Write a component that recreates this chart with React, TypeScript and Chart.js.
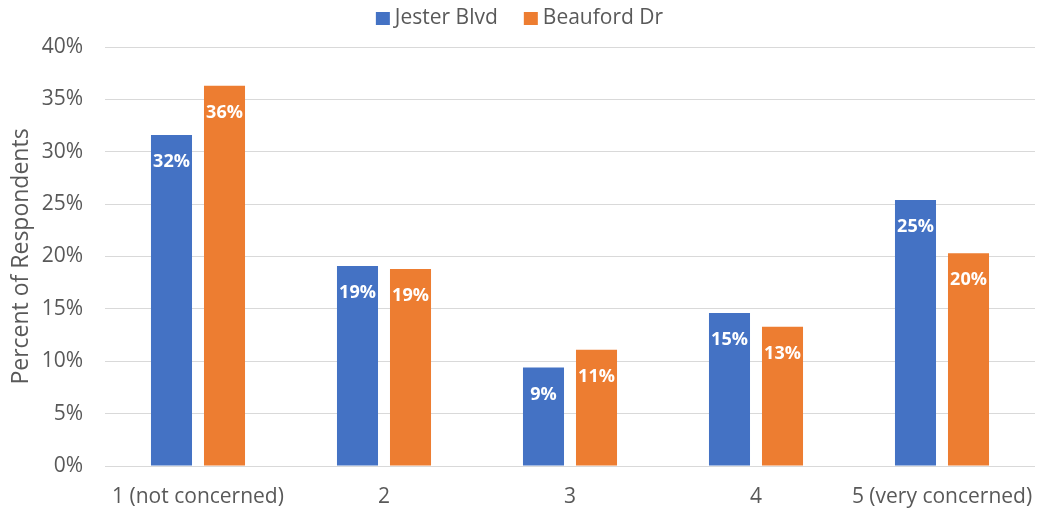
import React, { useEffect, useRef } from "react";
import { Chart, registerables } from "chart.js";

Chart.register(...registerables);

const categories = ["1 (not concerned)", "2", "3", "4", "5 (very concerned)"];
const seriesNames = ["Jester Blvd", "Beauford Dr"];
const jesterBlvd = [31.6, 19.1, 9.4, 14.6, 25.4];
const beaufordDr = [36.3, 18.8, 11.1, 13.3, 20.3];
const seriesColors = ["#4472C4", "#ED7D31"];
const yTicks = [0, 5, 10, 15, 20, 25, 30, 35, 40];

const FONT = "'Open Sans', 'Noto Sans', sans-serif";
const TEXT = "#595959";

// Writes each bar's rounded value in white just inside its top edge.
const valueLabels = {
  id: "valueLabels",
  afterDatasetsDraw(chart: any) {
    const ctx = chart.ctx;
    ctx.save();
    ctx.font = `bold 18px ${FONT}`;
    ctx.fillStyle = "#ffffff";
    ctx.textAlign = "center";
    ctx.textBaseline = "middle";
    chart.data.datasets.forEach((ds: any, di: number) => {
      const meta = chart.getDatasetMeta(di);
      meta.data.forEach((bar: any, i: number) => {
        const v = ds.data[i] as number;
        ctx.fillText(`${Math.round(v)}%`, bar.x, bar.y + 27);
      });
    });
    ctx.restore();
  },
};

// Compact centred legend: square swatch with a tight gap before the name.
const topLegend = {
  id: "topLegend",
  afterDraw(chart: any) {
    const ctx = chart.ctx;
    ctx.save();
    ctx.font = `21px ${FONT}`;
    ctx.textBaseline = "middle";
    const box = 14;
    const gap = 5;
    const between = 26;
    const items = chart.data.datasets.map((ds: any) => ({
      label: ds.label as string,
      color: ds.backgroundColor as string,
      w: box + gap + ctx.measureText(ds.label).width,
    }));
    const total = items.reduce((s: number, it: any) => s + it.w, 0) + between * (items.length - 1);
    let x = chart.width / 2 - total / 2;
    const cy = 18;
    items.forEach((it: any) => {
      ctx.fillStyle = it.color;
      ctx.fillRect(x, cy - 6, box, 13);
      ctx.fillStyle = TEXT;
      ctx.textAlign = "left";
      ctx.fillText(it.label, x + box + gap, cy);
      x += it.w + between;
    });
    ctx.restore();
  },
};

export default function App() {
  const ref = useRef<HTMLCanvasElement>(null);

  useEffect(() => {
    if (!ref.current) return;
    const chart = new Chart(ref.current, {
      type: "bar",
      data: {
        labels: categories,
        datasets: [
          {
            label: seriesNames[0],
            data: jesterBlvd,
            backgroundColor: seriesColors[0],
            categoryPercentage: 0.57,
            barPercentage: 0.774,
          },
          {
            label: seriesNames[1],
            data: beaufordDr,
            backgroundColor: seriesColors[1],
            categoryPercentage: 0.57,
            barPercentage: 0.774,
          },
        ],
      },
      options: {
        animation: false,
        responsive: false,
        maintainAspectRatio: false,
        layout: { padding: { left: 0, right: 4, top: 47, bottom: 0 } },
        plugins: {
          tooltip: { enabled: false },
          legend: { display: false },
        },
        scales: {
          x: {
            grid: { display: false, drawTicks: false },
            border: { display: false },
            ticks: {
              color: TEXT,
              padding: 18,
              font: { family: FONT, size: 21 },
              maxRotation: 0,
              autoSkip: false,
            },
            afterFit(scale: any) {
              scale.height = 48;
              // let the outer category labels run to the canvas edges
              scale.paddingLeft = 0;
              scale.paddingRight = 0;
            },
          },
          y: {
            min: 0,
            max: 40,
            afterBuildTicks(scale: any) {
              scale.ticks = yTicks.map((v) => ({ value: v }));
            },
            grid: { color: "#d9d9d9", drawTicks: false, lineWidth: 1 },
            border: { display: false },
            ticks: {
              color: TEXT,
              padding: 22,
              font: { family: FONT, size: 21 },
              callback: (v: any) => `${v}%`,
            },
            title: {
              display: true,
              text: "Percent of Respondents",
              color: TEXT,
              padding: { top: 8, bottom: 0 },
              font: { family: FONT, size: 23 },
            },
            afterFit(scale: any) {
              scale.width = 105;
            },
          },
        },
      },
      plugins: [valueLabels, topLegend],
    });
    return () => chart.destroy();
  }, []);

  return (
    <div style={{ position: "fixed", left: 0, top: 0, width: 1039, height: 514, background: "#fff" }}>
      <canvas ref={ref} width={1039} height={514} />
    </div>
  );
}
